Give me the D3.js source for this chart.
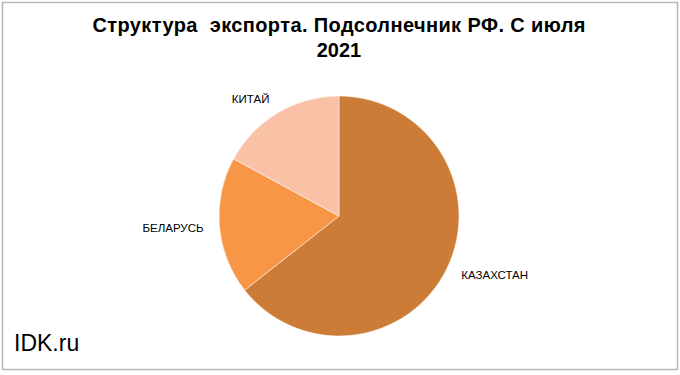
<!DOCTYPE html>
<html>
<head>
<meta charset="utf-8">
<script src="https://cdn.jsdelivr.net/npm/d3@7"></script>
<style>
    body { margin: 0; background: #fff; }
    text { font-family: "Liberation Sans", Arial, sans-serif; white-space: pre; }
</style>
</head>
<body>
<div id="chart"></div>
<script>
'use strict';
// export structure, share of total
var countries = ['КАЗАХСТАН', 'БЕЛАРУСЬ', 'КИТАЙ'];
var shares = [64.4, 18.5, 17.1];
var colors = ['#CD7C38', '#F79646', '#F9C1A5'];
var titleLines = ['Структура  экспорта. Подсолнечник РФ. С июля', '2021'];

var width = 680,
    height = 375;
var cx = 339, cy = 216, radius = 120;

var svg = d3.select('#chart').append('svg')
    .attr('width', width)
    .attr('height', height);

svg.append('rect')
    .attr('x', 2.5).attr('y', 2.5)
    .attr('width', width - 5).attr('height', height - 8)
    .attr('fill', '#fff')
    .attr('stroke', '#b8b8b8')
    .attr('stroke-width', 1.5);

svg.append('g').selectAll('text')
    .data(titleLines)
    .enter().append('text')
    .attr('x', 339)
    .attr('y', function (d, i) { return 32 + i * 25; })
    .attr('text-anchor', 'middle')
    .attr('font-size', '20px')
    .attr('font-weight', 'bold')
    .attr('textLength', function (d, i) { return i === 0 ? 493 : null; })
    .attr('lengthAdjust', 'spacing')
    .text(function (d) { return d; });

var data = countries.map(function (c, i) {
    return { name: c, value: shares[i], color: colors[i] };
});

var pie = d3.pie().sort(null).value(function (d) { return d.value; });
var arc = d3.arc().innerRadius(0).outerRadius(radius);
var labelArc = d3.arc().innerRadius(136).outerRadius(136);

var g = svg.append('g').attr('transform', 'translate(' + cx + ',' + cy + ')');
var slices = pie(data);

g.selectAll('path')
    .data(slices)
    .enter().append('path')
    .attr('d', arc)
    .attr('fill', function (d) { return d.data.color; })
    .attr('stroke', '#fff')
    .attr('stroke-width', 0.5);

g.selectAll('text.label')
    .data(slices)
    .enter().append('text')
    .attr('class', 'label')
    .attr('transform', function (d) { return 'translate(' + labelArc.centroid(d) + ')'; })
    .attr('dy', '0.35em')
    .attr('text-anchor', function (d) {
        var mid = (d.startAngle + d.endAngle) / 2;
        return mid < Math.PI ? 'start' : 'end';
    })
    .attr('font-size', '11.5px')
    .attr('fill', '#000')
    .text(function (d) { return d.data.name; });

svg.append('text')
    .attr('x', 14)
    .attr('y', 351)
    .attr('font-size', '23px')
    .text('IDK.ru');
</script>
</body>
</html>
